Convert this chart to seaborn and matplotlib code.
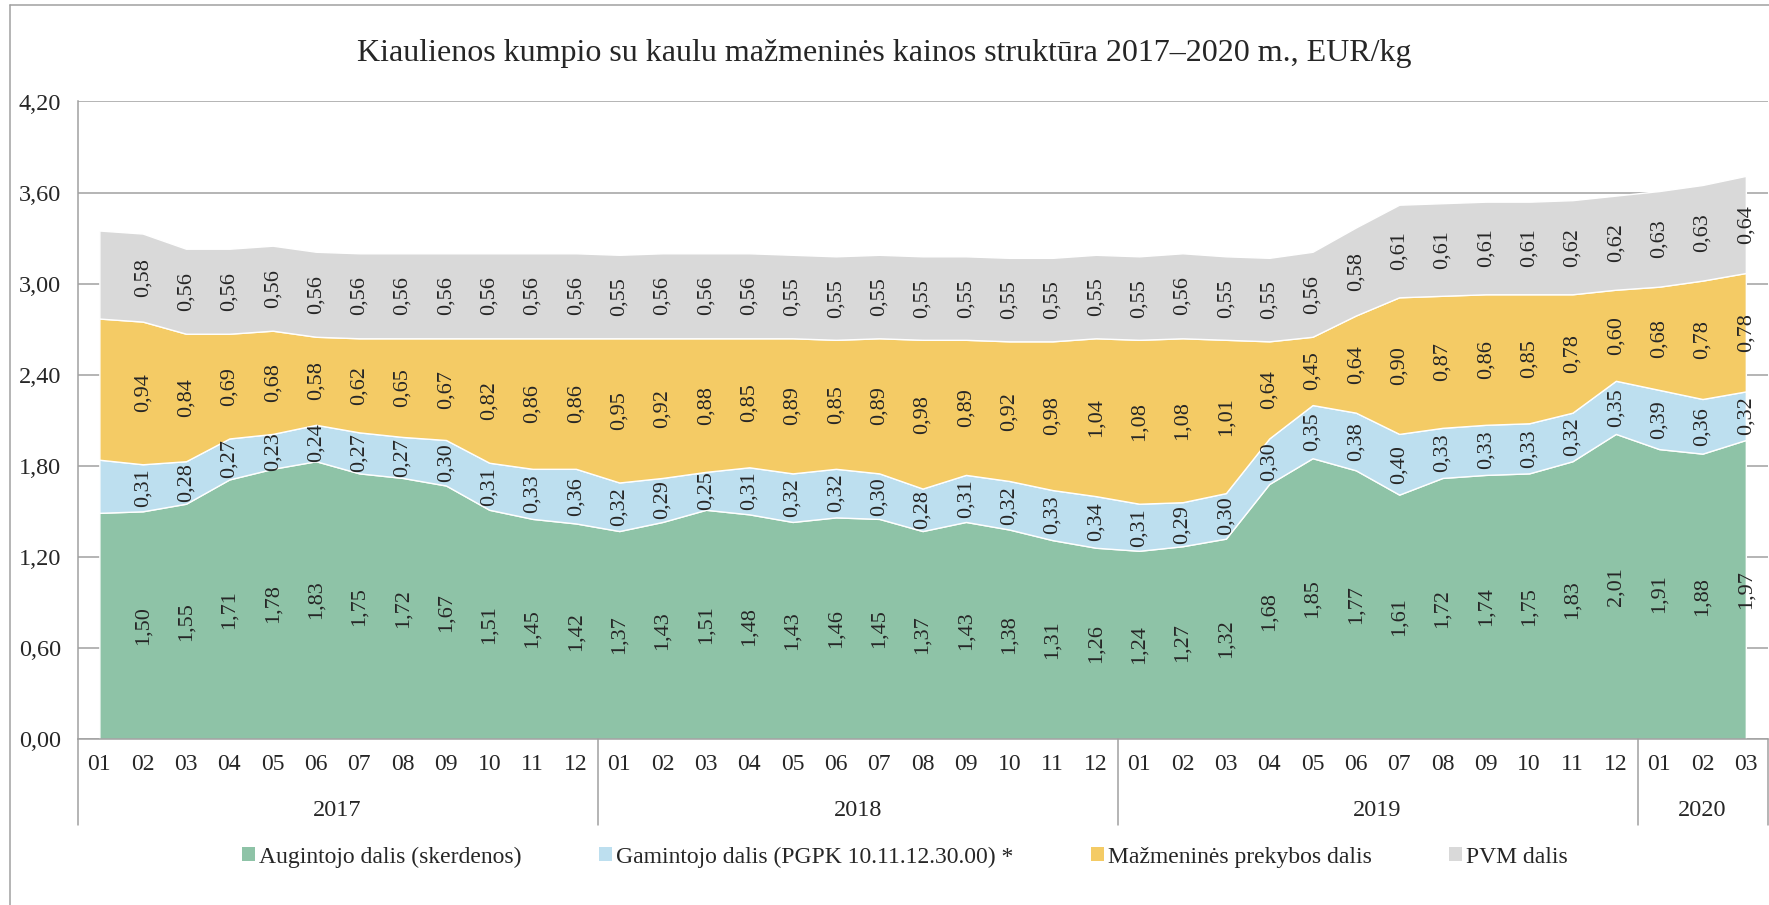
import numpy as np
import pandas as pd
import matplotlib
matplotlib.use("Agg")
import matplotlib.pyplot as plt
from matplotlib.lines import Line2D
from matplotlib.patches import Patch
import seaborn as sns

months = ["01", "02", "03", "04", "05", "06", "07", "08", "09", "10", "11", "12"] * 3 + ["01", "02", "03"]
years = ["2017", "2018", "2019", "2020"]
year_len = [12, 12, 12, 3]

augintojo = [1.49, 1.50, 1.55, 1.71, 1.78, 1.83, 1.75, 1.72, 1.67, 1.51, 1.45, 1.42,
             1.37, 1.43, 1.51, 1.48, 1.43, 1.46, 1.45, 1.37, 1.43, 1.38, 1.31, 1.26,
             1.24, 1.27, 1.32, 1.68, 1.85, 1.77, 1.61, 1.72, 1.74, 1.75, 1.83, 2.01,
             1.91, 1.88, 1.97]
gamintojo = [0.35, 0.31, 0.28, 0.27, 0.23, 0.24, 0.27, 0.27, 0.30, 0.31, 0.33, 0.36,
             0.32, 0.29, 0.25, 0.31, 0.32, 0.32, 0.30, 0.28, 0.31, 0.32, 0.33, 0.34,
             0.31, 0.29, 0.30, 0.30, 0.35, 0.38, 0.40, 0.33, 0.33, 0.33, 0.32, 0.35,
             0.39, 0.36, 0.32]
prekyba = [0.93, 0.94, 0.84, 0.69, 0.68, 0.58, 0.62, 0.65, 0.67, 0.82, 0.86, 0.86,
           0.95, 0.92, 0.88, 0.85, 0.89, 0.85, 0.89, 0.98, 0.89, 0.92, 0.98, 1.04,
           1.08, 1.08, 1.01, 0.64, 0.45, 0.64, 0.90, 0.87, 0.86, 0.85, 0.78, 0.60,
           0.68, 0.78, 0.78]
pvm = [0.58, 0.58, 0.56, 0.56, 0.56, 0.56, 0.56, 0.56, 0.56, 0.56, 0.56, 0.56,
       0.55, 0.56, 0.56, 0.56, 0.55, 0.55, 0.55, 0.55, 0.55, 0.55, 0.55, 0.55,
       0.55, 0.56, 0.55, 0.55, 0.56, 0.58, 0.61, 0.61, 0.61, 0.61, 0.62, 0.62,
       0.63, 0.63, 0.64]

series = ["Augintojo dalis (skerdenos)", "Gamintojo dalis (PGPK 10.11.12.30.00) *",
          "Mažmeninės prekybos dalis", "PVM dalis"]
colors = ["#8EC3A7", "#BDDFEF", "#F4CB65", "#D9D9D9"]

df = pd.DataFrame({series[0]: augintojo, series[1]: gamintojo,
                   series[2]: prekyba, series[3]: pvm})

sns.set_style("white")
plt.rcParams["font.family"] = ["Liberation Serif", "DejaVu Serif"]
grid_c = "#A0A0A0"

W, H = 1769, 905
fig = plt.figure(figsize=(W / 100, H / 100), dpi=100)
x0, x1, y0, y1 = 77.7, 1767.5, 101.5, 739
ax = fig.add_axes([x0 / W, 1 - y1 / H, (x1 - x0) / W, (y1 - y0) / H])

x = np.arange(len(df))
ax.stackplot(x, [df[s] for s in series], colors=colors, labels=series, zorder=2)

ax.set_xlim(-0.5, len(df) - 0.5)
ax.set_ylim(0, 4.2)
yt = np.arange(0, 4.21, 0.6)
ax.set_yticks(yt, [f"{v:.2f}".replace(".", ",") for v in yt], fontsize=17.5)
ax.set_xticks(x, months, fontsize=17)
ax.tick_params(axis="both", length=0)
ax.tick_params(axis="x", pad=11)
ax.tick_params(axis="y", pad=12)
ax.grid(axis="y", color=grid_c, lw=1.1)
ax.set_axisbelow(True)
for s in ["top", "right"]:
    ax.spines[s].set_visible(False)
for s in ["left", "bottom"]:
    ax.spines[s].set_color(grid_c)
    ax.spines[s].set_linewidth(1.1)
    ax.spines[s].set_zorder(3)

# data labels (first month unlabeled as in original)
bottom = np.zeros(len(df))
for s in series:
    vals = df[s].values
    for i in range(1, len(df)):
        ax.text(i, bottom[i] + vals[i] / 2, f"{vals[i]:.2f}".replace(".", ","),
                rotation=90, ha="center", va="center", fontsize=16, zorder=4)
    bottom += vals

# year row and separators
tr = ax.get_xaxis_transform()
ylow = (y1 - 825) / (y1 - y0)
start = 0
for yr, n in zip(years, year_len):
    ax.plot([start - 0.5, start - 0.5], [0, ylow], transform=tr,
            color=grid_c, lw=1.1, clip_on=False)
    ax.text(start + (n - 1) / 2, (y1 - 810) / (y1 - y0), yr, transform=tr,
            ha="center", va="center", fontsize=17.5)
    start += n
ax.plot([start - 0.5, start - 0.5], [0, ylow], transform=tr, color=grid_c, lw=1.1, clip_on=False)

fig.text(0.5, 1 - 54 / H, "Kiaulienos kumpio su kaulu mažmeninės kainos struktūra 2017–2020 m., EUR/kg",
         ha="center", va="center", fontsize=23)

# outer frame
fig.add_artist(Line2D([9.6 / W, 9.6 / W], [0, 1 - 5 / H], color=grid_c, lw=1.1))
fig.add_artist(Line2D([9.6 / W, 1], [1 - 5 / H, 1 - 5 / H], color=grid_c, lw=1.1))

handles = [Patch(facecolor=c, edgecolor="none") for c in colors]
fig.legend(handles, series, loc="center", bbox_to_anchor=(905 / W, 1 - 857 / H), ncol=4,
           frameon=False, fontsize=17, handlelength=0.55, handleheight=0.55,
           handletextpad=0.15, columnspacing=3.3)

fig.savefig("out.png", dpi=100)
